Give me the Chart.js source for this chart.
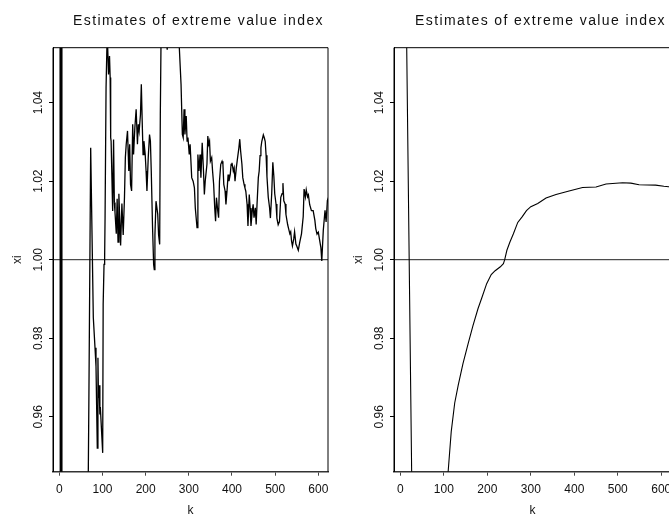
<!DOCTYPE html>
<html>
<head>
<meta charset="utf-8">
<title>Estimates of extreme value index</title>
<script src="https://cdn.jsdelivr.net/npm/chart.js@4.4.1/dist/chart.umd.min.js"></script>
<style>
  html, body { margin: 0; padding: 0; background: #fff; overflow: hidden; }
  #wrap { position: relative; width: 669px; height: 516px; overflow: hidden; }
  canvas { position: absolute; top: 0; }
  #left { left: 0; }
  #right { left: 341px; }
</style>
</head>
<body>
<div id="wrap">
  <canvas id="left" width="340" height="516"></canvas>
  <canvas id="right" width="340" height="516"></canvas>
</div>
<script>
const chartTitle = 'Estimates of extreme value index';
const xTicks = [0, 100, 200, 300, 400, 500, 600];
const yTicks = [0.96, 0.98, 1.00, 1.02, 1.04];
const yTickLabels = ['0.96', '0.98', '1.00', '1.02', '1.04'];
const xRange = [-14.6, 622.4];
const yRange = [0.946, 1.054];
const refLevel = 1.0;

// left panel: noisy estimator
const kLeft = [1, 3, 4.5, 6, 8, 20, 35, 50, 60, 66, 68.5, 72.7, 78.8, 82.7, 85, 88, 89.5, 90.7, 92, 94, 95,
  100.5, 101.6, 103.6, 105, 106, 108.3, 111, 114, 116.3, 117.8, 119, 120, 123.6, 125.7, 127.5,
  129, 132, 134, 136, 138, 142, 145, 148, 151, 153, 155, 158, 161, 163, 165, 167.5, 170, 172, 175,
  178, 181, 183, 185, 188, 190, 192, 194, 196, 199, 201, 203, 206, 209, 211, 213, 216, 218.5, 220,
  221.5, 224, 226, 228, 230, 232.5, 234, 236, 240, 245, 250, 253, 260, 268, 275, 278, 282, 285,
  287, 289, 291, 294, 296, 298, 301, 303, 306.7, 310, 313, 315, 317, 319, 321, 323.5, 326, 328,
  331, 334, 336, 338, 342, 344, 346, 348, 350, 353, 355, 357.5, 360, 362, 364, 367, 369, 371, 374,
  377, 379, 381, 384, 386, 389, 391, 393, 396, 398, 400, 403, 405, 407, 410, 413, 416, 418, 420,
  423, 425, 428, 430, 432, 435, 437, 440, 442, 444, 447, 449, 451, 454, 456, 458, 461, 463, 465,
  467, 469, 472.6, 475, 477, 479, 481, 484, 487, 489, 492, 494.6, 497, 499, 502, 504, 507, 510,
  513, 516, 518, 520, 523, 525, 529, 531, 534, 536, 538, 540, 543, 545, 548, 550, 553.6, 557, 561,
  565, 567, 570, 572, 575, 577, 580, 584, 588, 592, 594, 597, 600, 603, 606, 608, 611.5, 615.5,
  618, 621, 624];
const xiLeft = [1.30, 0.70, 1.25, 0.75, 0.93, 0.92, 0.91, 0.925, 0.935, 0.93, 0.964, 1.0285, 0.9852,
  0.9776, 0.9729, 0.952, 0.975, 0.9648, 0.968, 0.9606, 0.9625,
  0.9508, 0.9886, 0.9988, 1.0005, 1.0107, 1.0438, 1.058, 1.0472, 1.0519, 1.0464, 1.0311, 1.0302,
  1.0124, 1.0306, 1.0146,
  1.0121, 1.0066, 1.0155, 1.0045, 1.0168, 1.0036, 1.0143, 1.0063, 1.016, 1.026, 1.0294, 1.0328,
  1.0226, 1.0294, 1.0192, 1.0175, 1.0345, 1.0268, 1.0336,
  1.0383, 1.0294, 1.0345, 1.0328, 1.037, 1.0447, 1.0353, 1.0268, 1.0302, 1.0268, 1.0226, 1.0175,
  1.026, 1.0319, 1.0302, 1.0226, 1.0082, 0.9988, 0.9975,
  1.0063, 1.0149, 1.0149, 1.0116, 1.0063, 1.0039, 1.037, 1.06, 1.065, 1.058, 1.0535, 1.062, 1.075,
  1.07, 1.06, 1.054, 1.0447, 1.0319,
  1.0311, 1.0383, 1.0319, 1.0366, 1.0302, 1.0311, 1.0268, 1.0294, 1.0209, 1.0200, 1.0183, 1.0132,
  1.0107, 1.0082, 1.0268, 1.0226, 1.0268, 1.0209,
  1.0298, 1.0226, 1.0166, 1.02, 1.0243, 1.0315, 1.0294, 1.0302, 1.0251, 1.026, 1.0226, 1.0192,
  1.0132, 1.0098, 1.0158, 1.0124, 1.0107, 1.02, 1.0243,
  1.0251, 1.0243, 1.0192, 1.0175, 1.0141, 1.0183, 1.0217, 1.02, 1.0217, 1.0243, 1.0247, 1.0226,
  1.0234, 1.02, 1.0234, 1.026, 1.0285, 1.0307, 1.0277,
  1.0243, 1.0209, 1.0192, 1.0183, 1.0175, 1.0141, 1.0086, 1.0166, 1.0132, 1.0086, 1.0124, 1.0141,
  1.0107, 1.0132, 1.009, 1.0141, 1.0209, 1.0226, 1.0265,
  1.0285, 1.0301, 1.0318, 1.031, 1.0301, 1.0266, 1.0212, 1.0159, 1.0133, 1.0106, 1.0168, 1.0248,
  1.0212, 1.0168, 1.0142, 1.0106, 1.0089, 1.0097,
  1.0159, 1.0168, 1.0195, 1.015, 1.0142, 1.0115, 1.0089, 1.008, 1.0066, 1.0071, 1.0047, 1.0035,
  1.0053, 1.0071, 1.004, 1.0035, 1.0024, 1.0045, 1.0066,
  1.011, 1.018, 1.016, 1.0178, 1.016, 1.0165, 1.014, 1.0125, 1.0125, 1.01, 1.008, 1.0065, 1.007,
  1.005, 1.003, 0.9997, 1.0075, 1.0126,
  1.0096, 1.0151, 1.016];

// right panel: smooth estimator
const kRight = [10, 30, 45, 65, 85, 100, 109.9, 117, 125, 133, 144, 155.6, 167, 178.5, 188, 198.5,
  209, 218, 230, 237, 240, 245, 252, 260, 270, 280, 290, 300, 316, 335, 358, 388, 419, 450, 473,
  511, 530, 549, 587, 606, 625];
const xiRight = [1.098, 0.908, 0.899, 0.904, 0.918, 0.934, 0.946, 0.9562, 0.9635, 0.968, 0.9735,
  0.9785, 0.9832, 0.9875, 0.9905, 0.9939, 0.9962, 0.9972, 0.9982, 0.999, 1.0, 1.0024, 1.0045,
  1.0066, 1.0095, 1.0109, 1.0125, 1.0135, 1.0143, 1.0157, 1.0166, 1.0175, 1.0184, 1.0185, 1.0193,
  1.0196, 1.0195, 1.0191, 1.019, 1.0187, 1.0185];

const FONT = '"Liberation Sans", Arial, sans-serif';
const INK = '#111';

// box, rotated y labels and main title (R style)
const rStylePlugin = {
  id: 'rStyle',
  afterDraw(chart) {
    const ctx = chart.ctx;
    const a = chart.chartArea;
    const yScale = chart.scales.y;
    ctx.save();
    ctx.strokeStyle = '#000';
    ctx.lineWidth = 1;
    ctx.beginPath();
    ctx.moveTo(a.left, a.bottom);
    ctx.lineTo(a.left, a.top);
    ctx.lineTo(a.right, a.top);
    ctx.lineTo(a.right, a.bottom);
    ctx.stroke();

    ctx.fillStyle = INK;
    ctx.font = '12px ' + FONT;
    ctx.textAlign = 'center';
    ctx.textBaseline = 'middle';
    yTicks.forEach((v, i) => {
      const py = yScale.getPixelForValue(v);
      ctx.save();
      ctx.translate(39, py);
      ctx.rotate(-Math.PI / 2);
      ctx.fillText(yTickLabels[i], 0, 0);
      ctx.restore();
    });

    ctx.font = '14px ' + FONT;
    ctx.letterSpacing = '1.4px';
    ctx.textBaseline = 'alphabetic';
    ctx.fillText(chartTitle, (a.left + a.right) / 2 + 8, 25.3);
    ctx.restore();
  }
};

function makeChart(id, kValues, xiValues, lineWidth, rightPad) {
  const points = kValues.map((k, i) => ({ x: k, y: xiValues[i] }));
  return new Chart(document.getElementById(id), {
    type: 'line',
    data: {
      datasets: [{
        data: points,
        borderColor: '#000',
        borderWidth: lineWidth,
        pointRadius: 0,
        tension: 0
      }, {
        data: [{ x: xRange[0], y: refLevel }, { x: xRange[1], y: refLevel }],
        borderColor: '#222',
        borderWidth: 1,
        pointRadius: 0
      }]
    },
    options: {
      responsive: false,
      animation: false,
      events: [],
      layout: { padding: { top: 47.7, right: rightPad, left: 0, bottom: 0 } },
      plugins: { legend: { display: false }, tooltip: { enabled: false } },
      scales: {
        x: {
          type: 'linear',
          min: xRange[0],
          max: xRange[1],
          afterBuildTicks: (scale) => { scale.ticks = xTicks.map(v => ({ value: v })); },
          afterFit: (scale) => { scale.height = 44.3; },
          grid: { drawOnChartArea: false, drawTicks: true, tickLength: 4, color: '#444' },
          border: { display: true, color: '#333', width: 1.5 },
          ticks: {
            color: INK, font: { family: FONT, size: 12 }, padding: 6.4,
            maxRotation: 0, autoSkip: false,
            callback: (v) => String(v)
          },
          title: { display: true, text: 'k', color: INK, font: { family: FONT, size: 12, lineHeight: 0.9 }, padding: 0 }
        },
        y: {
          type: 'linear',
          min: yRange[0],
          max: yRange[1],
          afterBuildTicks: (scale) => { scale.ticks = yTicks.map(v => ({ value: v })); },
          afterFit: (scale) => { scale.width = 53; },
          grid: { drawOnChartArea: false, drawTicks: true, tickLength: 4, color: '#000' },
          border: { display: true, color: '#000', width: 1 },
          ticks: { display: false },
          title: { display: true, text: 'xi', color: INK, font: { family: FONT, size: 12, lineHeight: 1.2 }, padding: { top: 10.8, bottom: 0 } }
        }
      }
    },
    plugins: [rStylePlugin]
  });
}

makeChart('left', kLeft, xiLeft, 1.3, 12);
makeChart('right', kRight, xiRight, 1.1, 10);
</script>
</body>
</html>
